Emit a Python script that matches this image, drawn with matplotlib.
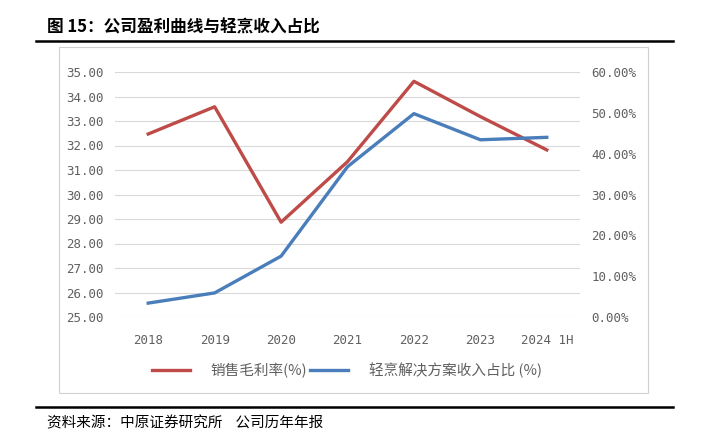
import numpy as np
import matplotlib.pyplot as plt
from matplotlib.patches import Rectangle
from matplotlib.lines import Line2D

plt.rcParams['font.family'] = ['Noto Sans CJK SC', 'DejaVu Sans']

# Data
years = ['2018', '2019', '2020', '2021', '2022', '2023', '2024 1H']
gross_margin = [32.47, 33.58, 28.87, 31.34, 34.62, 33.18, 31.82]
light_share = [3.4, 5.9, 14.9, 36.8, 49.8, 43.4, 44.0]

left_ticks = [25, 26, 27, 28, 29, 30, 31, 32, 33, 34, 35]
right_ticks = [0, 10, 20, 30, 40, 50, 60]

red = '#BE4B48'
blue = '#4A7EBB'
grey = '#606060'

fig = plt.figure(figsize=(7.09, 4.41), dpi=100)

# title and black rules
fig.text(47 / 709, 1 - 27 / 441, '图 15：公司盈利曲线与轻烹收入占比', fontsize=12,
         fontweight='bold', va='center', ha='left')
fig.add_artist(Line2D([36 / 709, 673 / 709], [1 - 41 / 441] * 2, color='black', lw=1.8))
fig.add_artist(Line2D([36 / 709, 673 / 709], [1 - 407 / 441] * 2, color='black', lw=1.8))
fig.add_artist(Rectangle((59 / 709, 1 - 393 / 441), 589 / 709, 346 / 441,
                         fill=False, edgecolor='#D0D0D0', lw=0.8))
fig.text(47 / 709, 1 - 423 / 441, '资料来源：中原证券研究所    公司历年年报', fontsize=10.5,
         va='center', ha='left')

ax1 = fig.add_axes([115 / 709, 1 - 317 / 441, 465 / 709, 245 / 441])
x = np.arange(len(years))

l1, = ax1.plot(x, gross_margin, color=red, lw=2.4, label='销售毛利率(%)', zorder=3)
ax1.set_ylim(25, 35)
ax1.set_yticks(left_ticks)
ax1.set_yticklabels([f'{t:.2f}' for t in left_ticks])
ax1.set_xlim(-0.5, len(years) - 0.5)
ax1.set_xticks(x)
ax1.set_xticklabels(years)
ax1.grid(axis='y', color='#D9D9D9', lw=0.8)
ax1.set_axisbelow(True)

ax2 = ax1.twinx()
l2, = ax2.plot(x, light_share, color=blue, lw=2.4, label='轻烹解决方案收入占比 (%)', zorder=3)
ax2.set_ylim(0, 60)
ax2.set_yticks(right_ticks)
ax2.set_yticklabels([f'{t:.2f}%' for t in right_ticks])

for ax in (ax1, ax2):
    for s in ax.spines.values():
        s.set_visible(False)
    ax.tick_params(length=0, labelcolor=grey)
    for lab in ax.get_xticklabels() + ax.get_yticklabels():
        lab.set_family('DejaVu Sans Mono')
        lab.set_fontsize(9)
ax1.tick_params(axis='x', pad=12)
ax1.tick_params(axis='y', pad=8)
ax2.tick_params(axis='y', pad=8)

fig.legend([l1, l2], [l1.get_label(), l2.get_label()], loc='center',
           bbox_to_anchor=(347 / 709, 1 - 370 / 441), ncol=2, frameon=False,
           fontsize=10.5, labelcolor=grey, handlelength=2.6, columnspacing=0.2,
           handletextpad=1.4)

fig.savefig('out.png', dpi=100)
